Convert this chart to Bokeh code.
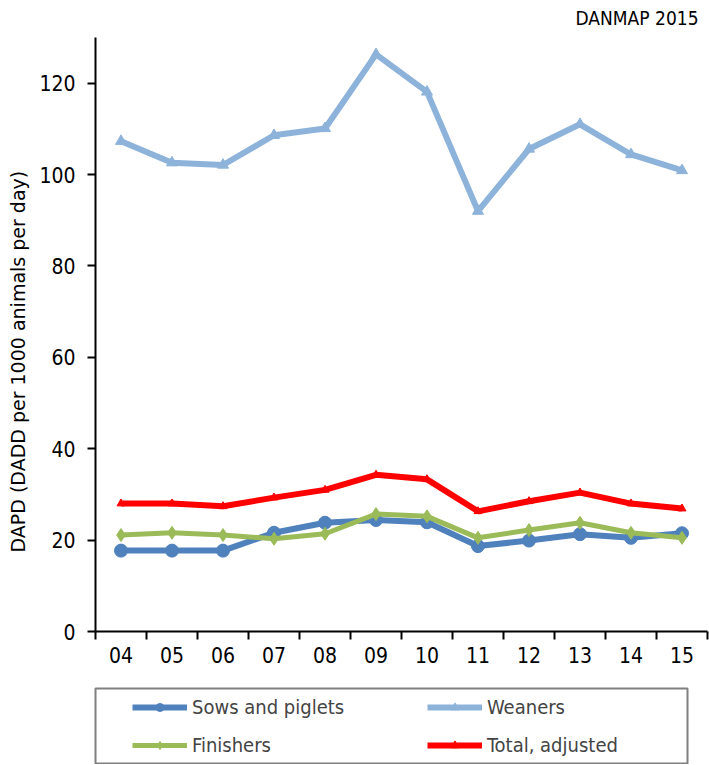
import numpy as np
from bokeh.plotting import figure
from bokeh.models import Range1d, FixedTicker, Legend, LegendItem, Title, Label
from bokeh.layouts import column
from bokeh.embed import file_html
from bokeh.resources import INLINE

# ---- data ----
years = ["04", "05", "06", "07", "08", "09", "10", "11", "12", "13", "14", "15"]
sows = [17.7, 17.7, 17.7, 21.6, 23.8, 24.4, 23.9, 18.7, 19.9, 21.3, 20.5, 21.5]
weaners = [107.3, 102.6, 102.1, 108.6, 110.1, 126.3, 118.1, 92.0, 105.6, 111.0, 104.4, 100.9]
finishers = [21.1, 21.6, 21.1, 20.3, 21.4, 25.7, 25.2, 20.5, 22.2, 23.8, 21.6, 20.5]
total = [28.0, 28.0, 27.4, 29.3, 31.0, 34.3, 33.3, 26.3, 28.5, 30.4, 28.0, 26.9]
y_ticks = [0, 20, 40, 60, 80, 100, 120]
y_max = 130
series_names = ["Sows and piglets", "Weaners", "Finishers", "Total, adjusted"]
title_text = "DANMAP 2015"
y_label = "DAPD (DADD per 1000  animals per day)"

FONT = "DejaVu Sans Condensed"

n = len(years)
xs = np.arange(n) + 0.5
edges = list(range(n + 1))

# the frame reaches the top of the canvas; the axis line stops at y_max
AXIS_PX = 594      # pixel height of 0..y_max
TOP_PX = 37        # space above the axis top
p = figure(frame_width=612, frame_height=AXIS_PX + TOP_PX,
           min_border_left=95, min_border_right=2, min_border_top=0, min_border_bottom=45,
           x_range=Range1d(0, n), y_range=Range1d(0, y_max * (AXIS_PX + TOP_PX) / AXIS_PX),
           output_backend="svg", toolbar_location=None)
p.grid.visible = False
p.outline_line_color = None

xa = p.xaxis[0]
xa.ticker = FixedTicker(ticks=[float(v) for v in xs], minor_ticks=[float(e) for e in edges])
xa.major_label_overrides = {float(v): lab for v, lab in zip(xs, years)}
xa.major_tick_line_color = None
xa.minor_tick_line_color = "black"
xa.minor_tick_line_width = 2
xa.minor_tick_out = 8
xa.minor_tick_in = 0
xa.axis_line_width = 2
xa.major_label_standoff = 7
xa.major_label_text_font = FONT
xa.major_label_text_font_size = "21px"
xa.major_label_text_color = "black"

ya = p.yaxis[0]
ya.ticker = FixedTicker(ticks=y_ticks)
ya.bounds = (0, y_max)
ya.major_tick_out = 8
ya.major_tick_in = 0
ya.major_tick_line_width = 2
ya.minor_tick_line_color = None
ya.axis_line_width = 2
ya.major_label_standoff = 12
ya.major_label_text_font = FONT
ya.major_label_text_font_size = "21px"
ya.major_label_text_color = "black"

# y-axis title, placed a little below the axis centre as in the original
p.add_layout(Title(text=y_label, align="left", vertical_align="top", offset=79, standoff=12,
                   text_font="DejaVu Sans", text_font_size="19px",
                   text_font_style="normal", text_color="black"), "left")

# "DANMAP 2015" at the top right
p.add_layout(Label(x=603, y=AXIS_PX + TOP_PX - 17, x_units="screen", y_units="screen",
                   text=title_text, text_align="right", text_baseline="alphabetic",
                   text_font=FONT, text_font_size="19px", text_color="black"))

styles = [
    (sows, "#4F81BD", "circle", 13, 6),
    (weaners, "#8EB3DA", "triangle", 11, 6),
    (finishers, "#9BBB59", "diamond", 13, 5),
    (total, "#FF0000", "triangle", 8, 6),
]
for vals, col, mk, sz, lw in styles:
    p.line(xs, vals, line_color=col, line_width=lw)
    p.scatter(xs, vals, marker=mk, size=sz, fill_color=col, line_color=col)

# ---- legend panel (its renderers hold the series but lie outside its clipped frame) ----
p2 = figure(frame_width=592, frame_height=75,
            min_border_left=90, min_border_right=27, min_border_top=12, min_border_bottom=1,
            x_range=Range1d(-1000, -999), y_range=Range1d(-1000, -999),
            x_axis_location=None, y_axis_location=None,
            output_backend="svg", toolbar_location=None)
p2.grid.visible = False
p2.outline_line_color = "#808080"
p2.outline_line_width = 2

items = []
for name, (vals, col, mk, sz, lw) in zip(series_names, styles):
    lr = p2.line(xs, vals, line_color=col, line_width=lw)
    sr = p2.scatter(xs, vals, marker=mk, size=sz, fill_color=col, line_color=col)
    items.append(LegendItem(label=name, renderers=[lr, sr]))

leg = Legend(items=items, orientation="horizontal", ncols=2, location=(37, 6),
             padding=0, margin=0, spacing=14, glyph_width=55, glyph_height=20,
             label_height=20, label_width=221, label_standoff=5,
             label_text_font=FONT, label_text_font_size="20px",
             border_line_color=None, background_fill_alpha=0)
p2.add_layout(leg)

layout = column(p, p2, spacing=0)
open("out.html", "w").write(file_html(layout, INLINE))
